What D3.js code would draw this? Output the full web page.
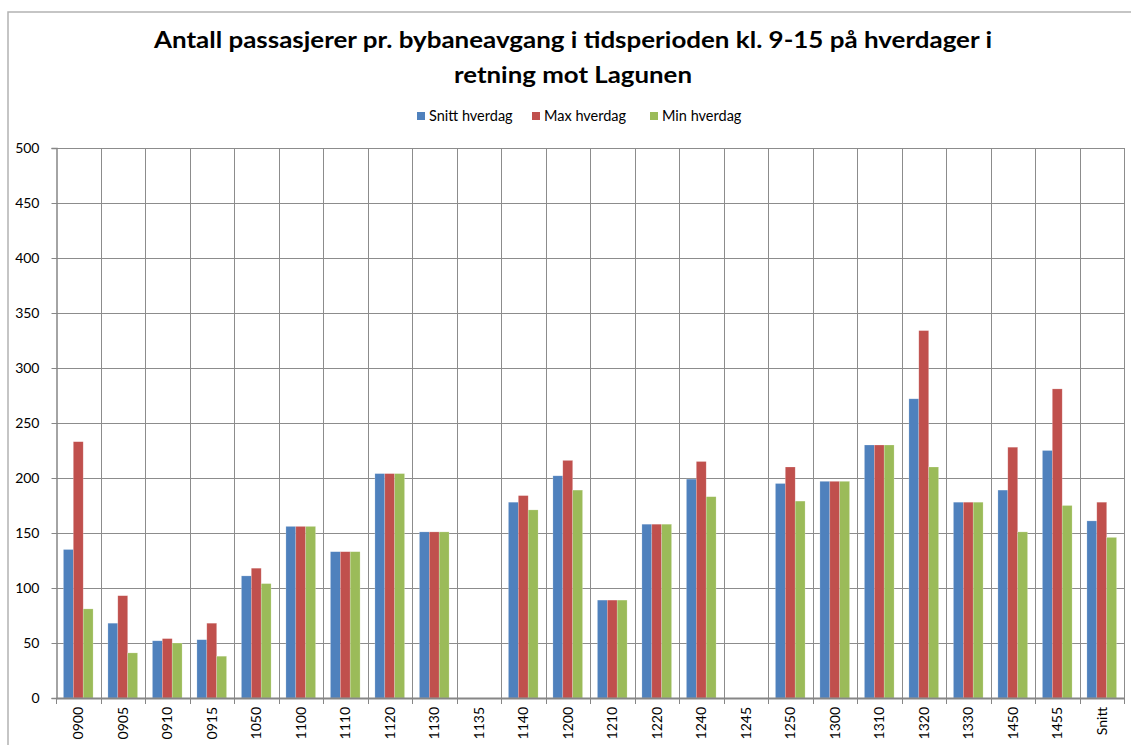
<!DOCTYPE html>
<html>
<head>
<meta charset="utf-8">
<script src="https://cdn.jsdelivr.net/npm/d3@7"></script>
<style>
  body { margin: 0; background: #fff; }
  svg { display: block; font-family: Lato, "Open Sans", sans-serif; }
</style>
</head>
<body>
<div id="chart"></div>
<script>
'use strict';

var categories = ['0900', '0905', '0910', '0915', '1050', '1100', '1110', '1120', '1130', '1135',
  '1140', '1200', '1210', '1220', '1240', '1245', '1250', '1300', '1310', '1320',
  '1330', '1450', '1455', 'Snitt'];
var seriesNames = ['Snitt hverdag', 'Max hverdag', 'Min hverdag'];
var seriesColors = ['#4F81BD', '#C0504D', '#9BBB59'];
var snittValues = [135, 68, 52, 53, 111, 156, 133, 204, 151, 0,
  178, 202, 89, 158, 199, 0, 195, 197, 230, 272, 178, 189, 225, 161];
var maxValues = [233, 93, 54, 68, 118, 156, 133, 204, 151, 0,
  184, 216, 89, 158, 215, 0, 210, 197, 230, 334, 178, 228, 281, 178];
var minValues = [81, 41, 50, 38, 104, 156, 133, 204, 151, 0,
  171, 189, 89, 158, 183, 0, 179, 197, 230, 210, 178, 151, 175, 146];
var yTicks = [0, 50, 100, 150, 200, 250, 300, 350, 400, 450, 500];
var titleLines = ['Antall passasjerer pr. bybaneavgang i tidsperioden kl. 9-15 på hverdager i',
  'retning mot Lagunen'];
var titleWidths = [838, 238];

var width = 1131, height = 745;
var margins = { left: 56, right: 7, top: 148, bottom: 47 };
var plotW = width - margins.left - margins.right;
var plotH = height - margins.top - margins.bottom;

var allSeries = [snittValues, maxValues, minValues];
var rows = categories.map(function(c, i) {
  return { cat: c, values: allSeries.map(function(s, j) { return { key: seriesNames[j], value: s[i], idx: j }; }) };
});

var svg = d3.select('#chart').append('svg')
  .attr('width', width)
  .attr('height', height);

// outer chart frame
svg.append('rect')
  .attr('x', 8).attr('y', 12)
  .attr('width', width + 10).attr('height', height + 10)
  .attr('fill', 'none')
  .attr('stroke', '#b3b3b3')
  .attr('stroke-width', 1.5);

// title
svg.append('g')
  .style('font-weight', 'bold')
  .style('font-size', '23px')
  .attr('fill', '#000')
  .selectAll('text')
  .data(titleLines)
  .enter().append('text')
  .attr('x', function(d, i) { return 573 - titleWidths[i] / 2; })
  .attr('y', function(d, i) { return 48 + i * 35; })
  .attr('textLength', function(d, i) { return titleWidths[i]; })
  .attr('lengthAdjust', 'spacingAndGlyphs')
  .text(function(d) { return d; });

// legend
var legendX = [417, 532, 650];
var legend = svg.selectAll('.legend')
  .data(seriesNames)
  .enter().append('g')
  .attr('class', 'legend')
  .attr('transform', function(d, i) { return 'translate(' + legendX[i] + ',112)'; });
legend.append('rect')
  .attr('width', 8).attr('height', 8)
  .attr('fill', function(d, i) { return seriesColors[i]; });
legend.append('text')
  .attr('x', 12).attr('y', 4)
  .attr('dy', '0.35em')
  .style('font-size', '14.5px')
  .attr('fill', '#000')
  .text(function(d) { return d; });

var chart = svg.append('g')
  .attr('transform', 'translate(' + margins.left + ',' + margins.top + ')');

var x0 = d3.scaleBand().domain(categories).range([0, plotW]).paddingInner(0).paddingOuter(0);
var x1 = d3.scaleBand().domain(seriesNames).range([0, x0.bandwidth()]).paddingInner(0).paddingOuter(0.75);
var y = d3.scaleLinear().domain([0, 500]).range([plotH, 0]);

// horizontal gridlines
chart.append('g')
  .selectAll('line')
  .data(yTicks.slice(1))
  .enter().append('line')
  .attr('x1', 0).attr('x2', plotW)
  .attr('y1', function(d) { return Math.round(y(d)) + 0.5; })
  .attr('y2', function(d) { return Math.round(y(d)) + 0.5; })
  .attr('stroke', '#8c8c8c');

// vertical gridlines at category boundaries
var bounds = categories.map(function(c) { return x0(c); }).concat([plotW]);
chart.append('g')
  .selectAll('line')
  .data(bounds.slice(1))
  .enter().append('line')
  .attr('x1', function(d) { return Math.round(d) + 0.5; })
  .attr('x2', function(d) { return Math.round(d) + 0.5; })
  .attr('y1', 0).attr('y2', plotH)
  .attr('stroke', '#8c8c8c');

// bars
chart.selectAll('.grp')
  .data(rows)
  .enter().append('g')
  .attr('class', 'grp')
  .attr('transform', function(d) { return 'translate(' + x0(d.cat) + ',0)'; })
  .selectAll('rect')
  .data(function(d) { return d.values.filter(function(v) { return v.value > 0; }); })
  .enter().append('rect')
  .attr('x', function(d) { return x1(d.key); })
  .attr('width', x1.bandwidth())
  .attr('y', function(d) { return y(d.value); })
  .attr('height', function(d) { return plotH - y(d.value); })
  .attr('fill', function(d) { return seriesColors[d.idx]; })
  .attr('stroke', 'rgba(255,255,255,0.35)')
  .attr('stroke-width', 0.6);

// y axis
var yAxis = d3.axisLeft(y).tickValues(yTicks).tickSize(5).tickPadding(12);
var yg = chart.append('g').attr('transform', 'translate(0.5,0)').call(yAxis);
yg.select('.domain').attr('stroke', '#868686').attr('stroke-width', 1.5);
yg.selectAll('.tick line').attr('stroke', '#868686');
yg.selectAll('.tick text').style('font-size', '14px').style('font-family', 'Lato, sans-serif').attr('fill', '#000');

// x axis
var xAxis = d3.axisBottom(x0).tickSize(0).tickSizeOuter(0);
var xg = chart.append('g').attr('transform', 'translate(0,' + plotH + ')').call(xAxis);
xg.select('.domain').attr('stroke', '#868686').attr('stroke-width', 2);
xg.selectAll('.tick text')
  .style('font-size', '14px')
  .style('font-family', 'Lato, sans-serif')
  .attr('fill', '#000')
  .attr('text-anchor', 'end')
  .attr('transform', 'rotate(-90)')
  .attr('x', -9)
  .attr('y', 0)
  .attr('dy', '0.35em');
// tick marks at boundaries
xg.append('g')
  .selectAll('line')
  .data(bounds)
  .enter().append('line')
  .attr('x1', function(d) { return Math.round(d) + 0.5; })
  .attr('x2', function(d) { return Math.round(d) + 0.5; })
  .attr('y1', 0).attr('y2', 6)
  .attr('stroke', '#868686');
</script>
</body>
</html>
